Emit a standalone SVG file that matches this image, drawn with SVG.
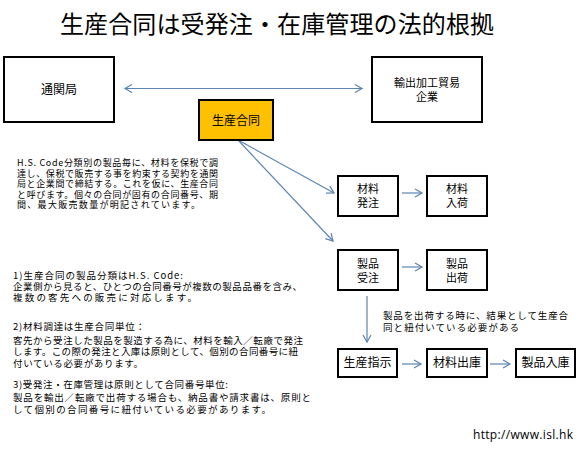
<svg xmlns="http://www.w3.org/2000/svg" width="579" height="451" viewBox="0 0 579 451">
<style>
.box{fill:#fff;stroke:#000;stroke-width:2}
.org{fill:#FFC000;stroke:#000;stroke-width:2}
.t{font-family:"Noto Sans CJK JP","Noto Sans",sans-serif;fill:#000}
.n{font-size:12px;text-anchor:middle}
.n2{font-size:11px;text-anchor:middle}
.s{font-size:9.5px}
.s1{font-size:9px}
.c{fill:none;stroke:#5B84B4;stroke-width:1.2}
</style>
<defs>
<marker id="ah" markerUnits="userSpaceOnUse" markerWidth="12" markerHeight="12" refX="8" refY="6" orient="auto-start-reverse" viewBox="0 0 12 12">
<polyline points="1,2 8,6 1,10" fill="none" stroke="#5B84B4" stroke-width="1.2"/>
</marker>
</defs>
<rect width="579" height="451" fill="#fff"/>
<text class="t" x="60" y="33" font-size="24" textLength="434">生産合同は受発注・在庫管理の法的根拠</text>

<g id="connectors">
<line class="c" x1="125" y1="88.5" x2="362" y2="88.5" marker-start="url(#ah)" marker-end="url(#ah)"/>
<line class="c" x1="238" y1="140" x2="334" y2="193" marker-end="url(#ah)"/>
<line class="c" x1="238" y1="140" x2="333" y2="241" marker-end="url(#ah)"/>
<line class="c" x1="402" y1="193" x2="422" y2="193" marker-end="url(#ah)"/>
<line class="c" x1="402" y1="267" x2="422" y2="267" marker-end="url(#ah)"/>
<line class="c" x1="367" y1="296" x2="367" y2="342" marker-end="url(#ah)"/>
<line class="c" x1="402" y1="364" x2="421" y2="364" marker-end="url(#ah)"/>
<line class="c" x1="490" y1="364" x2="510" y2="364" marker-end="url(#ah)"/>
</g>

<g id="n-tsukan">
<rect class="box" x="4" y="57" width="110" height="65"/>
<text class="t n" x="59" y="94">通関局</text>
</g>
<g id="n-kigyo">
<rect class="box" x="372" y="57" width="110" height="65"/>
<text class="t n2" x="427" y="86.5">輸出加工貿易<tspan x="427" dy="14">企業</tspan></text>
</g>
<g id="n-seisangodo">
<rect class="org" x="199" y="100" width="74" height="40"/>
<text class="t n" x="236" y="125">生産合同</text>
</g>
<g id="n-zairyohacchu">
<rect class="box" x="338" y="176" width="60" height="40"/>
<text class="t n2" x="368" y="193">材料<tspan x="368" dy="14">発注</tspan></text>
</g>
<g id="n-zairyonyuka">
<rect class="box" x="427" y="176" width="60" height="40"/>
<text class="t n2" x="457" y="193">材料<tspan x="457" dy="14">入荷</tspan></text>
</g>
<g id="n-seihinjuchu">
<rect class="box" x="338" y="250" width="60" height="40"/>
<text class="t n2" x="368" y="267.5">製品<tspan x="368" dy="14">受注</tspan></text>
</g>
<g id="n-seihinshukka">
<rect class="box" x="427" y="250" width="60" height="40"/>
<text class="t n2" x="457" y="267.5">製品<tspan x="457" dy="14">出荷</tspan></text>
</g>
<g id="n-seisanshiji">
<rect class="box" x="338" y="349" width="59" height="28"/>
<text class="t n" x="367.5" y="367">生産指示</text>
</g>
<g id="n-zairyoshukko">
<rect class="box" x="427" y="349" width="60" height="28"/>
<text class="t n" x="457" y="367">材料出庫</text>
</g>
<g id="n-seihinnyuko">
<rect class="box" x="516" y="349" width="59" height="28"/>
<text class="t n" x="545.5" y="367">製品入庫</text>
</g>

<g id="notes">
<text class="t s1" x="17" y="166"><tspan x="17" y="166" textLength="201">H.S. Code分類別の製品毎に、材料を保税で調</tspan><tspan x="17" y="176.5" textLength="201">達し、保税で販売する事を約束する契約を通関</tspan><tspan x="17" y="187" textLength="201">局と企業間で締結する。これを仮に、生産合同</tspan><tspan x="17" y="197.5" textLength="201">と呼びます。個々の合同が固有の合同番号、期</tspan><tspan x="17" y="208" textLength="183">間、最大販売数量が明記されています。</tspan></text>

<text class="t s" x="383" y="318.5"><tspan x="383" y="318.5" textLength="185">製品を出荷する時に、結果として生産合</tspan><tspan x="383" y="330.5" textLength="136">同と紐付いている必要がある</tspan></text>

<text class="t s" x="13" y="278.5"><tspan x="13" y="278.5" textLength="170">1)生産合同の製品分類はH.S. Code:</tspan><tspan x="13" y="290" textLength="289">企業側から見ると、ひとつの合同番号が複数の製品品番を含み、</tspan><tspan x="13" y="301" textLength="184">複数の客先への販売に対応します。</tspan></text>
<text class="t s" x="13" y="329.5"><tspan x="13" y="329.5" textLength="132">2)材料調達は生産合同単位：</tspan><tspan x="13" y="343.5" textLength="290">客先から受注した製品を製造する為に、材料を輸入／転廠で発注</tspan><tspan x="13" y="355" textLength="285">します。この際の発注と入庫は原則として、個別の合同番号に紐</tspan><tspan x="13" y="366.5" textLength="130">付いている必要があります。</tspan></text>
<text class="t s" x="13" y="387.5"><tspan x="13" y="387.5" textLength="215">3)受発注・在庫管理は原則として合同番号単位:</tspan><tspan x="13" y="401" textLength="298">製品を輸出／転廠で出荷する場合も、納品書や請求書は、原則と</tspan><tspan x="13" y="412.5" textLength="258">して個別の合同番号に紐付いている必要があります。</tspan></text>

<text x="473" y="439" font-family="'Open Sans','Liberation Sans',sans-serif" font-size="12" textLength="100" fill="#000">http://www.isl.hk</text>
</g>
</svg>
